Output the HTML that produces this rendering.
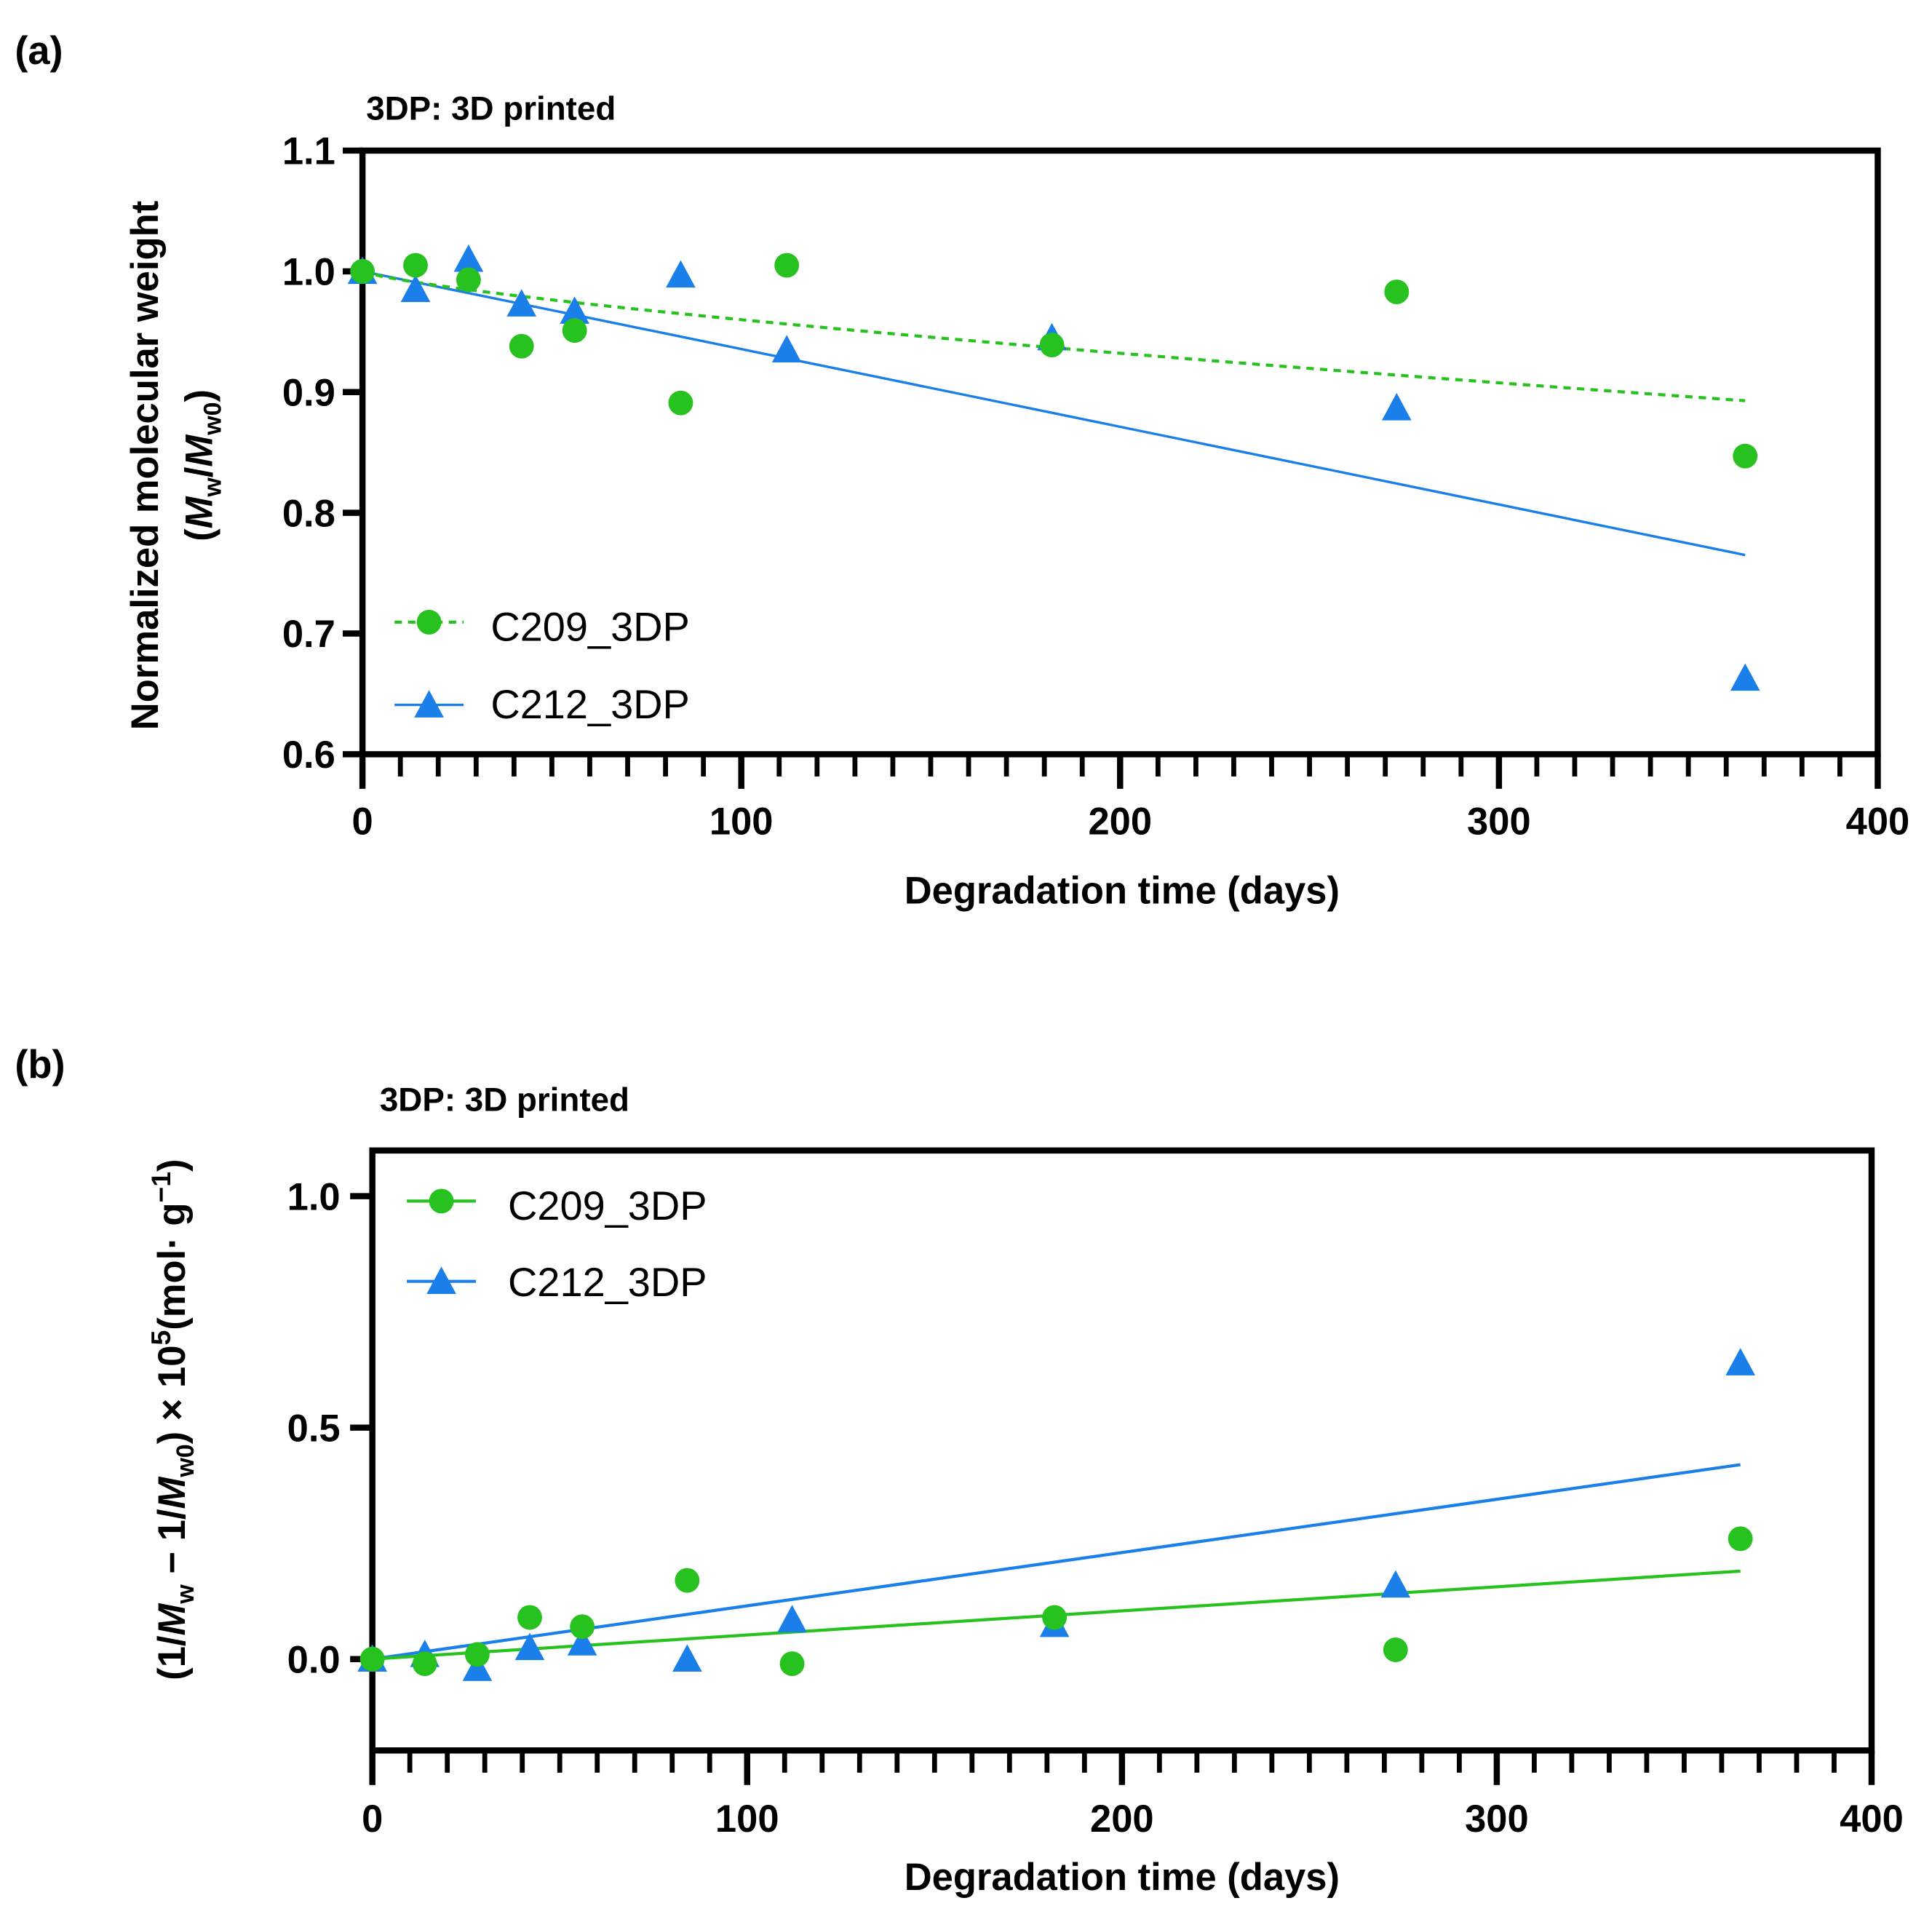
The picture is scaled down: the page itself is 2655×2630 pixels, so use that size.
<!DOCTYPE html>
<html><head><meta charset="utf-8"><style>
html,body{margin:0;padding:0;background:#fff}
svg{display:block}
text{font-family:"Liberation Sans",sans-serif}
</style></head><body>
<svg id="fig" width="2655" height="2630" viewBox="0 0 1567 1550.5" preserveAspectRatio="none">
<g id="gA"></g>
<g id="gB"></g>
</svg>
<script>
const days = [0,14,28,42,56,84,112,182,273,365];
const aC209 = [1.0,1.005,0.993,0.938,0.951,0.891,1.005,0.939,0.983,0.847];
const aC212 = [1.0,0.985,1.01,0.973,0.967,0.997,0.935,0.945,0.887,0.663];
const aC212Fit = [1.0,0.765];           // linear fit values at day 0 and 365
const aC209FitB = [0.00121,0.76];       // power fit: y = 1 - b*x^p
const bC209 = [0,-0.01,0.01,0.09,0.07,0.17,-0.01,0.09,0.02,0.26];
const bC212 = [0,0.01,-0.02,0.025,0.035,0.0,0.085,0.075,0.16,0.64];
const bC209Fit = [0,0.19];
const bC212Fit = [0,0.42];
const xTicks = [0,100,200,300,400];
const aYTicks = ["0.6","0.7","0.8","0.9","1.0","1.1"];
const bYTicks = ["0.0","0.5","1.0"];
const GREEN="#27c21f", BLUE="#1a7fe8";
const NS="http://www.w3.org/2000/svg";
function mk(tag,attrs,parent,txt){const e=document.createElementNS(NS,tag);for(const k in attrs)e.setAttribute(k,attrs[k]);if(txt!==undefined)e.textContent=txt;parent.appendChild(e);return e;}
function circle(g,x,y,c){const e=mk('circle',{cx:x,cy:y,r:10,fill:c},g);

}
function tri(g,x,y,c){const s=12;const e=mk('polygon',{points:`${x},${y-s} ${x-s},${y+s*0.85} ${x+s},${y+s*0.85}`,fill:c},g);

}

function frame(g,L,R,T,B,X,xLabelY){
  const r=mk('rect',{x:L,y:T,width:R-L,height:B-T,fill:'none',stroke:'#000','stroke-width':5},g);
  
  
  for(let d=0;d<=400;d+=10){
    const major=d%100===0;
    const t=mk('line',{x1:X(d),x2:X(d),y1:B,y2:B+(major?28:18),stroke:'#000','stroke-width':major?5:4},g);
    
    
  }
  xTicks.forEach(v=>{const t=mk('text',{x:X(v),y:xLabelY,'text-anchor':'middle','font-size':31,'font-weight':'bold'},g,String(v));
    
    });
}
function series(g,X,Y,xs,ys,c,marker){xs.forEach((d,i)=>marker(g,X(d),Y(ys[i]),c));}

// Panel A
(function(){
  const g=document.getElementById('gA');
  const L=294,R=1523,T=122,B=611;
  const X=d=>L+(R-L)*d/400, Y=v=>B-(v-0.6)/0.5*(B-T);
  let t=mk('text',{x:12,y:52,'font-size':32,'font-weight':'bold'},g,'(a)');
  
  t=mk('text',{x:297,y:97,'font-size':27,'font-weight':'bold'},g,'3DP: 3D printed');
  
  frame(g,L,R,T,B,X,676);
  aYTicks.forEach(s=>{const v=parseFloat(s);
    const l=mk('line',{x1:L-16,x2:L,y1:Y(v),y2:Y(v),stroke:'#000','stroke-width':5},g);
    
    const tt=mk('text',{x:L-22,y:Y(v)+11,'text-anchor':'end','font-size':31,'font-weight':'bold'},g,s);
    });
  t=mk('text',{x:910,y:732,'text-anchor':'middle','font-size':31,'font-weight':'bold'},g,'Degradation time (days)');
  
  t=mk('text',{transform:'translate(128,377) rotate(-90)','text-anchor':'middle','font-size':31,'font-weight':'bold'},g,'Normalized molecular weight');
  
  t=mk('text',{transform:'translate(172,377) rotate(-90)','text-anchor':'middle','font-size':31,'font-weight':'bold','font-family':'Liberation Serif, serif'},g);
  
  t.innerHTML='(<tspan font-style="italic">M</tspan><tspan font-size="20" dy="7">w</tspan><tspan dy="-7">/</tspan><tspan font-style="italic">M</tspan><tspan font-size="20" dy="7">w0</tspan><tspan dy="-7">)</tspan>';
  const l=mk('line',{x1:X(0),y1:Y(aC212Fit[0]),x2:X(365),y2:Y(aC212Fit[1]),stroke:BLUE,'stroke-width':2},g);
  
  let pts=[];for(let d=0;d<=365;d+=5){pts.push(X(d)+','+Y(1-aC209FitB[0]*Math.pow(d,aC209FitB[1])));}
  const p=mk('polyline',{points:pts.join(' '),fill:'none',stroke:GREEN,'stroke-width':2.5,'stroke-dasharray':'6 5'},g);
  
  series(g,X,Y,days,aC212,BLUE,tri);
  series(g,X,Y,days,aC209,GREEN,circle);
  const lg=mk('g',{},g);
  mk('line',{x1:320,x2:376,y1:504,y2:504,stroke:GREEN,'stroke-width':2.5,'stroke-dasharray':'6 5'},lg);
  circle(lg,348,504,GREEN);
  t=mk('text',{x:398,y:519,'font-size':33},lg,'C209_3DP');
  mk('line',{x1:320,x2:376,y1:571,y2:571,stroke:BLUE,'stroke-width':2},lg);
  tri(lg,348,571,BLUE);
  t=mk('text',{x:398,y:582,'font-size':33},lg,'C212_3DP');
})();

// Panel B
(function(){
  const g=document.getElementById('gB');
  const L=302,R=1518,T=932,B=1418;
  const X=d=>L+(R-L)*d/400, Y=v=>1344-v*375;
  let t=mk('text',{x:12,y:873,'font-size':32,'font-weight':'bold'},g,'(b)');
  
  t=mk('text',{x:308,y:900,'font-size':27,'font-weight':'bold'},g,'3DP: 3D printed');
  
  frame(g,L,R,T,B,X,1484);
  bYTicks.forEach(s=>{const v=parseFloat(s);
    const l=mk('line',{x1:L-18,x2:L,y1:Y(v),y2:Y(v),stroke:'#000','stroke-width':5},g);
    
    const tt=mk('text',{x:L-26,y:Y(v)+11,'text-anchor':'end','font-size':31,'font-weight':'bold'},g,s);
    });
  t=mk('text',{x:910,y:1531,'text-anchor':'middle','font-size':31,'font-weight':'bold'},g,'Degradation time (days)');
  
  t=mk('text',{transform:'translate(150,1150) rotate(-90)','text-anchor':'middle','font-size':31,'font-weight':'bold','font-family':'Liberation Serif, serif'},g);
  
  t.innerHTML='(1/<tspan font-style="italic">M</tspan><tspan font-size="20" dy="7">w</tspan><tspan dy="-7"> − 1/</tspan><tspan font-style="italic">M</tspan><tspan font-size="20" dy="7">w0</tspan><tspan dy="-7">) × 10</tspan><tspan font-size="22" dy="-12">5</tspan><tspan dy="12">(mol· g</tspan><tspan font-size="22" dy="-12">−1</tspan><tspan dy="12">)</tspan>';
  let l=mk('line',{x1:X(0),y1:Y(bC212Fit[0]),x2:X(365),y2:Y(bC212Fit[1]),stroke:BLUE,'stroke-width':2.5},g);
  
  l=mk('line',{x1:X(0),y1:Y(bC209Fit[0]),x2:X(365),y2:Y(bC209Fit[1]),stroke:GREEN,'stroke-width':2.5},g);
  
  series(g,X,Y,days,bC212,BLUE,tri);
  series(g,X,Y,days,bC209,GREEN,circle);
  const lg=mk('g',{},g);
  mk('line',{x1:330,x2:386,y1:973,y2:973,stroke:GREEN,'stroke-width':2.5},lg);
  circle(lg,358,973,GREEN);
  t=mk('text',{x:412,y:988,'font-size':33},lg,'C209_3DP');
  mk('line',{x1:330,x2:386,y1:1038,y2:1038,stroke:BLUE,'stroke-width':2.5},lg);
  tri(lg,358,1038,BLUE);
  t=mk('text',{x:412,y:1050,'font-size':33},lg,'C212_3DP');
})();
</script>
</body></html>
